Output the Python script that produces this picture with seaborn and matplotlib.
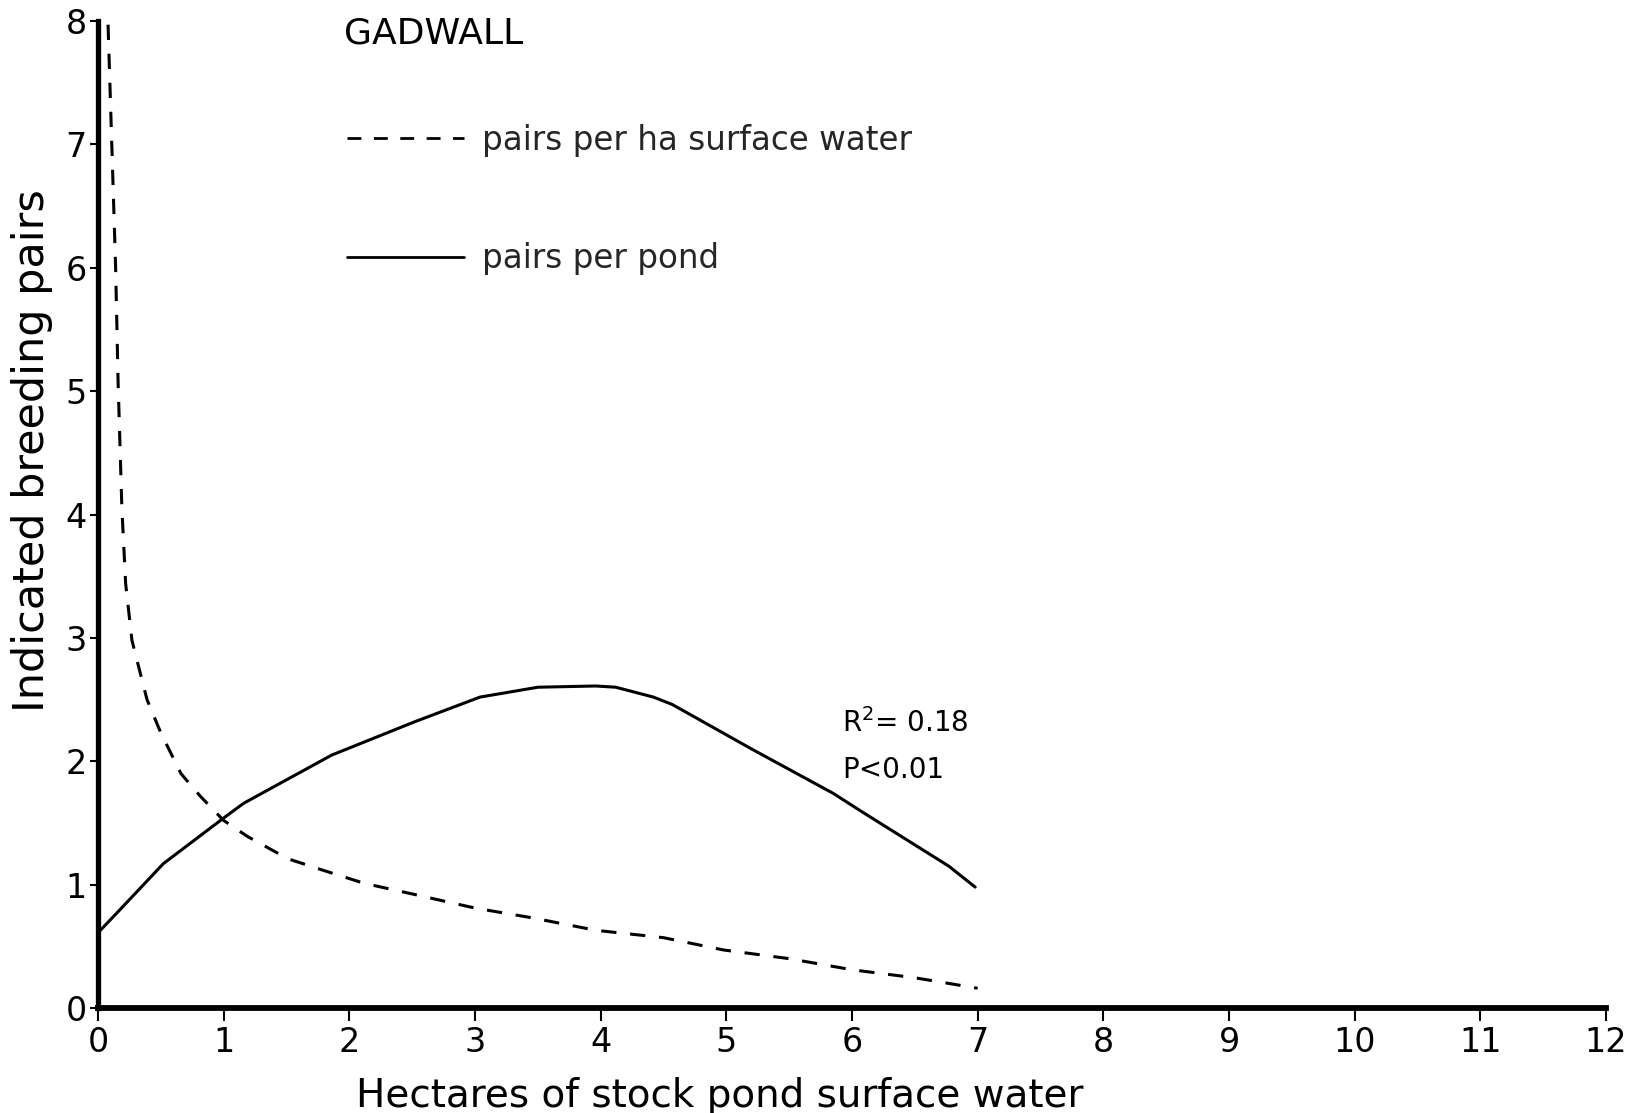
import numpy as np
import pandas as pd
import seaborn as sns
import matplotlib.pyplot as plt

# ---- data ----
ha_x = [0.08, 0.11, 0.14, 0.16, 0.19, 0.22, 0.27, 0.39, 0.50, 0.66, 0.82, 1.00, 1.19,
        1.51, 1.78, 2.12, 2.52, 3.00, 3.46, 3.96, 4.50, 4.98, 5.50, 6.00, 6.50, 7.00]
ha_y = [7.97, 6.99, 6.01, 5.07, 4.05, 3.44, 2.98, 2.50, 2.23, 1.90, 1.71, 1.52, 1.39,
        1.21, 1.12, 1.01, 0.92, 0.81, 0.73, 0.63, 0.57, 0.47, 0.40, 0.31, 0.245, 0.16]

pond_x = [0.0, 0.15, 0.52, 1.0, 1.16, 1.86, 2.52, 3.04, 3.50, 3.96, 4.12, 4.42, 4.57,
          5.2, 5.85, 6.08, 6.77, 6.98]
pond_y = [0.61, 0.77, 1.17, 1.54, 1.66, 2.05, 2.32, 2.52, 2.60, 2.61, 2.60, 2.52, 2.46,
          2.10, 1.74, 1.59, 1.15, 0.98]

x_ticks = list(range(0, 13))
y_ticks = list(range(0, 9))

title_text = "GADWALL"
label_ha = "pairs per ha surface water"
label_pond = "pairs per pond"
x_label = "Hectares of stock pond surface water"
y_label = "Indicated breeding pairs"
stat_r2 = "R$^2$= 0.18"
stat_p = "P<0.01"

# ---- style ----
sns.set_style("ticks")
plt.rcParams['font.family'] = ['DejaVu Sans']

fig = plt.figure(figsize=(16.35, 11.13), dpi=100)
ax = fig.add_axes([98 / 1635, 1 - 1008 / 1113, (1606 - 98) / 1635, (1008 - 21) / 1113])

df_ha = pd.DataFrame({"x": ha_x, "y": ha_y})
df_pond = pd.DataFrame({"x": pond_x, "y": pond_y})

sns.lineplot(data=df_ha, x="x", y="y", ax=ax, color="black", lw=2.2,
             dashes=False, estimator=None, label=label_ha)
ax.lines[-1].set_dashes((5, 4.5))
sns.lineplot(data=df_pond, x="x", y="y", ax=ax, color="black", lw=2.2,
             estimator=None, label=label_pond)

ax.set_xlim(0, 12)
ax.set_ylim(0, 8)
ax.set_xticks(x_ticks)
ax.set_yticks(y_ticks)
ax.set_xticklabels([str(t) for t in x_ticks])
ax.set_yticklabels([str(t) for t in y_ticks])

for s in ["top", "right"]:
    ax.spines[s].set_visible(False)
ax.spines["left"].set_linewidth(3.8)
ax.spines["bottom"].set_linewidth(4.2)
ax.spines["left"].set_color("black")
ax.spines["bottom"].set_color("black")

ax.tick_params(axis="y", direction="out", length=6, width=1.5, pad=2,
               labelsize=24, colors="black")
ax.tick_params(axis="x", direction="out", length=9, width=1.5, pad=4,
               labelsize=24, colors="black")

ax.set_xlabel(x_label, fontsize=28, color="black")
ax.xaxis.set_label_coords(0.412, -0.070)
ax.set_ylabel(y_label, fontsize=31, color="black")
ax.yaxis.set_label_coords(-0.030, 0.565)

ax.text(0.163, 0.987, title_text, transform=ax.transAxes, fontsize=26,
        ha="left", va="center", color="black")

ax.text(5.92, 2.31, stat_r2, fontsize=20, ha="left", va="center", color="black")
ax.text(5.92, 1.93, stat_p, fontsize=20, ha="left", va="center", color="black")

leg = ax.legend(loc="upper left", bbox_to_anchor=(0.165, 0.896), frameon=False,
                fontsize=23.5, handlelength=3.6, handletextpad=0.55,
                labelspacing=2.62, borderpad=0, borderaxespad=0)
for line in leg.get_lines():
    line.set_linewidth(2.0)

fig.savefig("out.png", dpi=100)
